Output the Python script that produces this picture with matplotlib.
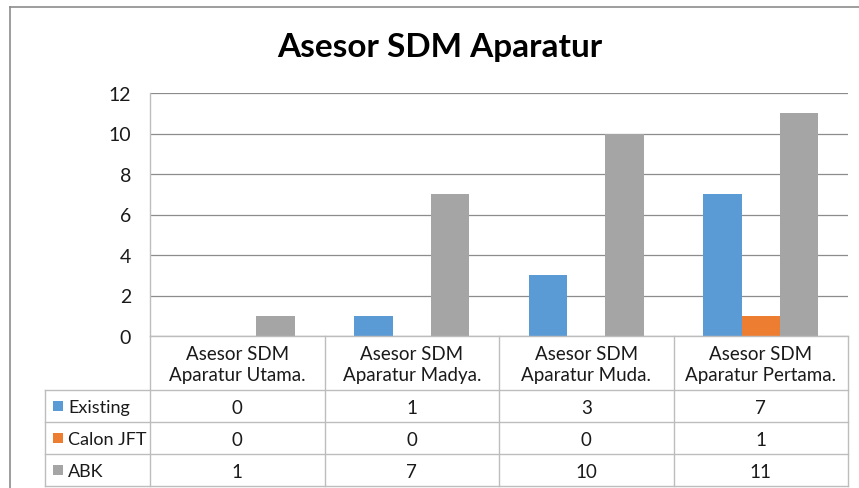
import matplotlib
matplotlib.use('Agg')
import matplotlib.pyplot as plt

# --- Data ---
categories = ["Asesor SDM\nAparatur Utama.", "Asesor SDM\nAparatur Madya.",
              "Asesor SDM\nAparatur Muda.", "Asesor SDM\nAparatur Pertama."]
series_names = ["Existing", "Calon JFT", "ABK"]
existing = [0, 1, 3, 7]
calon_jft = [0, 0, 0, 1]
abk = [1, 7, 10, 11]
y_ticks = [0, 2, 4, 6, 8, 10, 12]

COLORS = ["#5B9BD5", "#ED7D31", "#A5A5A5"]
GRID = "#8c8c8c"
TABLE_LINE = "#BDBDBD"
TEXT = "#1a1a1a"
FONT = "Lato"

W, H = 859, 489
plt.rcParams['font.family'] = [FONT, 'DejaVu Sans']

fig = plt.figure(figsize=(W / 100, H / 100), dpi=100)

# plot area in pixels
PL, PR, PT, PB = 150, 848, 94, 337
ax = fig.add_axes([PL / W, 1 - PB / H, (PR - PL) / W, (PB - PT) / H])

n = len(categories)
bw = 0.22
all_series = [existing, calon_jft, abk]
for k, (vals, col) in enumerate(zip(all_series, COLORS)):
    xs = [i + (k - 1) * bw for i in range(n)]
    ax.bar(xs, vals, width=bw, color=col, linewidth=0, zorder=3)

ax.set_xlim(-0.5, n - 0.5)
ax.set_ylim(0, 12)
ax.set_yticks(y_ticks)
ax.set_xticks([])
ax.yaxis.grid(True, color=GRID, linewidth=0.9, zorder=0)
ax.tick_params(axis='y', length=0, pad=13.5, labelsize=14, labelcolor=TEXT)
for side in ["top", "right", "bottom"]:
    ax.spines[side].set_visible(False)
ax.spines["left"].set_color(TABLE_LINE)
ax.spines["left"].set_linewidth(1.0)

# --- overlay in pixel coords for title, table and outer border ---
ov = fig.add_axes([0, 0, 1, 1], zorder=5)
ov.set_xlim(0, W)
ov.set_ylim(H, 0)
ov.axis('off')
ov.patch.set_alpha(0)

# outer chart border (partially visible)
ov.plot([10, W], [8, 8], color="#8c8c8c", linewidth=1.2)
ov.plot([10, 10], [8, H], color="#8c8c8c", linewidth=1.2)

ov.text(440, 47, "Asesor SDM Aparatur", ha='center', va='center',
        fontsize=24, fontweight='bold', color='black')

# data table
col_w = (PR - PL) / n
rows_y = [391, 423, 455, 487]
LEG_L = 45
lw = 1.0
ov.plot([PL, PR], [PB, PB], color=TABLE_LINE, linewidth=lw)
for y in rows_y:
    ov.plot([LEG_L, PR], [y, y], color=TABLE_LINE, linewidth=lw)
for i in range(n + 1):
    x = PL + i * col_w
    ov.plot([x, x], [PB, rows_y[-1]], color=TABLE_LINE, linewidth=lw)
ov.plot([LEG_L, LEG_L], [rows_y[0], rows_y[-1]], color=TABLE_LINE, linewidth=lw)

for i, cat in enumerate(categories):
    ov.text(PL + (i + 0.5) * col_w, (PB + rows_y[0]) / 2 + 1, cat,
            ha='center', va='center', fontsize=13.5, color=TEXT, linespacing=1.25)

for r, (name, vals, col) in enumerate(zip(series_names, all_series, COLORS)):
    yc = (rows_y[r] + rows_y[r + 1]) / 2
    ov.add_patch(plt.Rectangle((53, yc - 5), 10, 10, color=col, linewidth=0))
    ov.text(68, yc + 1, name, ha='left', va='center', fontsize=13, color=TEXT)
    for i, v in enumerate(vals):
        ov.text(PL + (i + 0.5) * col_w, yc + 1, str(v), ha='center', va='center',
                fontsize=13.5, color=TEXT)

fig.savefig("out.png", dpi=100, facecolor='white')
